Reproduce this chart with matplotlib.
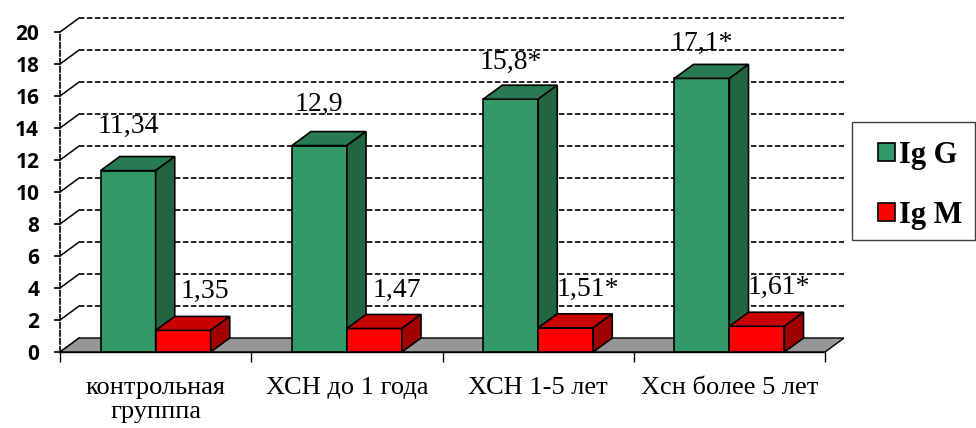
import matplotlib
matplotlib.use("Agg")
import matplotlib.pyplot as plt
from matplotlib.patches import Polygon, Patch, Rectangle
import numpy as np

categories = ["контрольная\nгрупппа", "ХСН до 1 года", "ХСН 1-5 лет", "Хсн более 5 лет"]
igg = [11.34, 12.9, 15.8, 17.1]
igm = [1.35, 1.47, 1.51, 1.61]
igg_labels = ["11,34", "12,9", "15,8*", "17,1*"]
igm_labels = ["1,35", "1,47", "1,51*", "1,61*"]
series_names = ["Ig G", "Ig M"]
yticks = [0, 2, 4, 6, 8, 10, 12, 14, 16, 18, 20]

W, H = 976, 428
fig = plt.figure(figsize=(W / 100, H / 100), dpi=100)

DX = 0.1      # depth offset in category units
DY = 0.875    # depth offset in value units
BW = 0.2876   # bar width
XMIN, XMAX = -0.5, 3.5 + DX
YMAX = 21.0
px_per_cat = 191.25
px_per_val = 16.0
ax_left = 60
ax_bottom = H - 352
ax = fig.add_axes([ax_left / W, ax_bottom / H,
                   (XMAX - XMIN) * px_per_cat / W, YMAX * px_per_val / H])
ax.set_xlim(XMIN, XMAX)
ax.set_ylim(0, YMAX)
ax.patch.set_visible(False)

serif = "Liberation Serif"
x = np.arange(len(categories))
DASH = (0, (3.2, 1.6))

# back-wall gridlines and diagonals
for v in yticks:
    if v > 0:
        ax.plot([XMIN + DX, 3.5 + DX], [v + DY, v + DY], color="black", lw=1.2,
                linestyle=DASH, clip_on=False, zorder=1)
    ax.plot([XMIN, XMIN + DX], [v, v + DY], color="black", lw=1.1,
            clip_on=False, zorder=1)

# floor
floor = Polygon([[XMIN, 0], [XMIN + DX, DY], [3.5 + DX, DY], [3.5, 0]],
                closed=True, facecolor="#969696", edgecolor="black", lw=1.0, zorder=2)
ax.add_patch(floor)

# labels (drawn beneath bars)
for i in range(len(x)):
    ax.text(x[i] - BW / 2, 0.9 * igg[i] + 3.48, igg_labels[i], ha="center",
            va="baseline", fontsize=20, family=serif, zorder=2.5)
    ax.text(x[i] + BW / 2 + 22 / px_per_cat, igm[i] + 2.0, igm_labels[i], ha="center",
            va="baseline", fontsize=20, family=serif, zorder=2.5)

def bar3d(xl, val, front, top, side, z):
    ax.bar(xl, val, width=BW, align="edge", color=front, edgecolor="black",
           lw=1.2, zorder=z)
    ax.add_patch(Polygon([[xl, val], [xl + DX, val + DY], [xl + BW + DX, val + DY],
                          [xl + BW, val]], closed=True, facecolor=top,
                         edgecolor="black", lw=1.2, zorder=z))
    ax.add_patch(Polygon([[xl + BW, 0], [xl + BW, val], [xl + BW + DX, val + DY],
                          [xl + BW + DX, DY]], closed=True, facecolor=side,
                         edgecolor="black", lw=1.2, zorder=z))

green = ("#339966", "#287a52", "#22653f")
red = ("#ff0000", "#c80000", "#a00000")
for i in range(len(x)):
    bar3d(x[i] - BW, igg[i], *green, z=3 + i * 0.1)
    bar3d(x[i], igm[i], *red, z=3.05 + i * 0.1)

# axes styling
for s in ["top", "right"]:
    ax.spines[s].set_visible(False)
ax.spines["left"].set_linestyle(DASH)
ax.spines["left"].set_bounds(0, 20)
ax.spines["bottom"].set_bounds(-0.5, 3.5)
ax.spines["left"].set_linewidth(1.2)
ax.spines["bottom"].set_linewidth(1.0)

ax.set_yticks(yticks)
ax.set_yticklabels([str(t) for t in yticks], fontsize=15, fontweight="bold",
                   family=["Open Sans", "DejaVu Sans"])
ax.tick_params(axis="y", direction="out", length=4, width=1.2, pad=11)

ax.set_xticks(x)
ax.set_xticklabels(categories, fontsize=19, family=serif, linespacing=1.1)
ax.tick_params(axis="x", which="major", length=0, pad=18)
ax.set_xticks([-0.5, 0.5, 1.5, 2.5, 3.5], minor=True)
ax.tick_params(axis="x", which="minor", direction="out", length=7, width=1)

# legend box and entries
fig.add_artist(Rectangle((852 / W, 1 - 240 / H), 123 / W, 118 / H,
                         transform=fig.transFigure, facecolor="white",
                         edgecolor="#404040", lw=1.0, zorder=5))
handles = [Patch(facecolor=green[0], edgecolor="black", lw=1.2),
           Patch(facecolor=red[0], edgecolor="black", lw=1.2)]
leg = fig.legend(handles, series_names, loc="upper left",
                 bbox_to_anchor=(878 / W, 1 - 141 / H), frameon=False,
                 prop={"family": serif, "weight": "bold", "size": 22},
                 handlelength=0.55, handleheight=0.55, handletextpad=0.15,
                 labelspacing=1.0, borderpad=0, borderaxespad=0)
leg.set_zorder(6)

fig.savefig("out.png", dpi=100)
